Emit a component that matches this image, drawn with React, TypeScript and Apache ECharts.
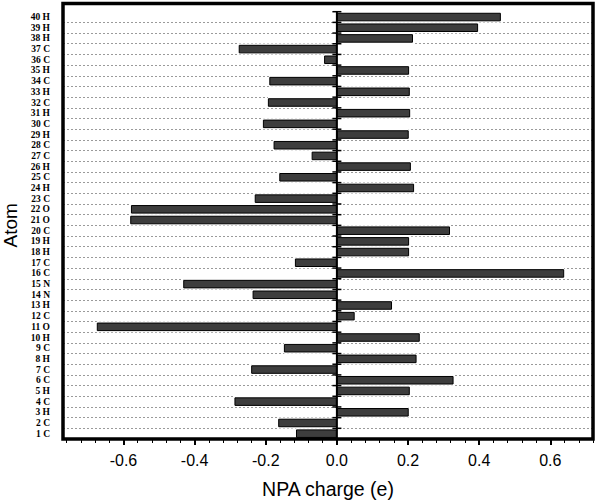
import React, { useEffect, useRef } from "react";
import * as echarts from "echarts";

const atoms = [
  "1 C", "2 C", "3 H", "4 C", "5 H", "6 C", "7 C", "8 H", "9 C", "10 H",
  "11 O", "12 C", "13 H", "14 N", "15 N", "16 C", "17 C", "18 H", "19 H", "20 C",
  "21 O", "22 O", "23 C", "24 H", "25 C", "26 H", "27 C", "28 C", "29 H", "30 C",
  "31 H", "32 C", "33 H", "34 C", "35 H", "36 C", "37 C", "38 H", "39 H", "40 H",
];

const charges = [
  -0.115, -0.165, 0.202, -0.288, 0.205, 0.328, -0.241, 0.224, -0.149, 0.233,
  -0.675, 0.05, 0.155, -0.237, -0.432, 0.639, -0.118, 0.203, 0.203, 0.318,
  -0.581, -0.579, -0.231, 0.217, -0.162, 0.208, -0.071, -0.178, 0.202, -0.208,
  0.206, -0.194, 0.205, -0.19, 0.203, -0.036, -0.276, 0.214, 0.397, 0.461,
];

const majorTicks = [-0.6, -0.4, -0.2, 0, 0.2, 0.4, 0.6];
const minorTicks = [
  -0.76, -0.72, -0.68, -0.64, -0.56, -0.52, -0.48, -0.44, -0.36, -0.32, -0.28, -0.24,
  -0.16, -0.12, -0.08, -0.04, 0.04, 0.08, 0.12, 0.16, 0.24, 0.28, 0.32, 0.36,
  0.44, 0.48, 0.52, 0.56, 0.64, 0.68, 0.72,
];

const X_MIN = -0.77;
const X_MAX = 0.72;

export default function App() {
  const ref = useRef<HTMLDivElement>(null);

  useEffect(() => {
    if (!ref.current) return;
    const chart = echarts.init(ref.current, null, { renderer: "svg" });
    const sans = "Liberation Sans";
    const option: any = {
      animation: false,
      backgroundColor: "#fff",
      grid: [
        { left: 63, right: 7, top: 11.7, bottom: 62, show: false, containLabel: false, outerBoundsMode: "none" },
        {
          left: 63, right: 7, top: 3.5, bottom: 62, show: true, z: 10,
          containLabel: false, outerBoundsMode: "none",
          borderColor: "#000", borderWidth: 3.5, backgroundColor: "transparent",
        },
      ],
      xAxis: [
        {
          type: "value", gridIndex: 0, position: "bottom", min: X_MIN, max: X_MAX,
          axisLine: { show: false },
          splitLine: { show: false },
          axisTick: { show: true, customValues: majorTicks, length: 6, lineStyle: { color: "#000", width: 2 } },
          axisLabel: {
            customValues: majorTicks, margin: 13,
            formatter: (v: number) => v.toFixed(1),
            fontFamily: sans, fontSize: 16, color: "#000",
          },
          name: "NPA charge (e)", nameLocation: "middle", nameGap: 40,
          nameTextStyle: { fontFamily: sans, fontSize: 19.5, color: "#000" },
        },
        {
          type: "value", gridIndex: 1, position: "bottom", min: X_MIN, max: X_MAX,
          axisLine: { show: false },
          splitLine: { show: false },
          axisTick: { show: true, customValues: minorTicks, length: 4, lineStyle: { color: "#000", width: 1 } },
          axisLabel: { show: false },
        },
      ],
      yAxis: [
        {
          type: "category", gridIndex: 0, data: atoms,
          axisLine: { show: false },
          axisTick: { show: false },
          axisLabel: {
            interval: 0, margin: 13,
            fontFamily: "Liberation Serif", fontWeight: "bold", fontSize: 9.5, color: "#000",
          },
          splitLine: {
            show: true, interval: 0, showMinLine: false, showMaxLine: false,
            lineStyle: { color: "#9a9a9a", type: [2, 2], width: 1 },
          },
          name: "Atom", nameLocation: "middle", nameGap: 42,
          nameTextStyle: { fontFamily: sans, fontSize: 19, color: "#000" },
        },
        {
          type: "category", gridIndex: 0, data: atoms, show: false,
        },
        {
          type: "value", gridIndex: 1, show: false,
        },
      ],
      series: [
        {
          type: "bar", xAxisIndex: 0, yAxisIndex: 1, data: charges,
          barWidth: 11, silent: true, z: 2,
          itemStyle: { color: "#fff", borderColor: "#fff", borderWidth: 3 },
        },
        {
          type: "bar", xAxisIndex: 0, yAxisIndex: 0, data: charges,
          barWidth: "80%", z: 3,
          itemStyle: { color: "#3d3d3d", borderColor: "#000", borderWidth: 1 },
        },
        {
          type: "custom", xAxisIndex: 0, yAxisIndex: 0, z: 4, silent: true,
          data: atoms.map((_, i) => [0, i]),
          encode: { x: 0, y: 1 },
          renderItem: (params: any, api: any) => {
            const idx = api.value(1);
            const p = api.coord([0, idx]);
            const h = api.size([0, 1])[1];
            const top = p[1] - h / 2;
            const bot = p[1] + h / 2;
            const children: any[] = [
              { type: "line", shape: { x1: p[0], y1: top, x2: p[0], y2: bot }, style: { stroke: "#000", lineWidth: 2 } },
              { type: "line", shape: { x1: p[0] - 4.5, y1: top, x2: p[0] + 4.5, y2: top }, style: { stroke: "#000", lineWidth: 1.5 } },
            ];
            if (idx === 0) {
              children.push({ type: "line", shape: { x1: p[0] - 4.5, y1: bot, x2: p[0] + 4.5, y2: bot }, style: { stroke: "#000", lineWidth: 1.5 } });
            }
            return { type: "group", children };
          },
        },
      ],
    };
    chart.setOption(option);
    return () => chart.dispose();
  }, []);

  return (
    <div
      ref={ref}
      style={{ position: "fixed", left: 0, top: 0, width: 600, height: 501, background: "#fff" }}
    />
  );
}
